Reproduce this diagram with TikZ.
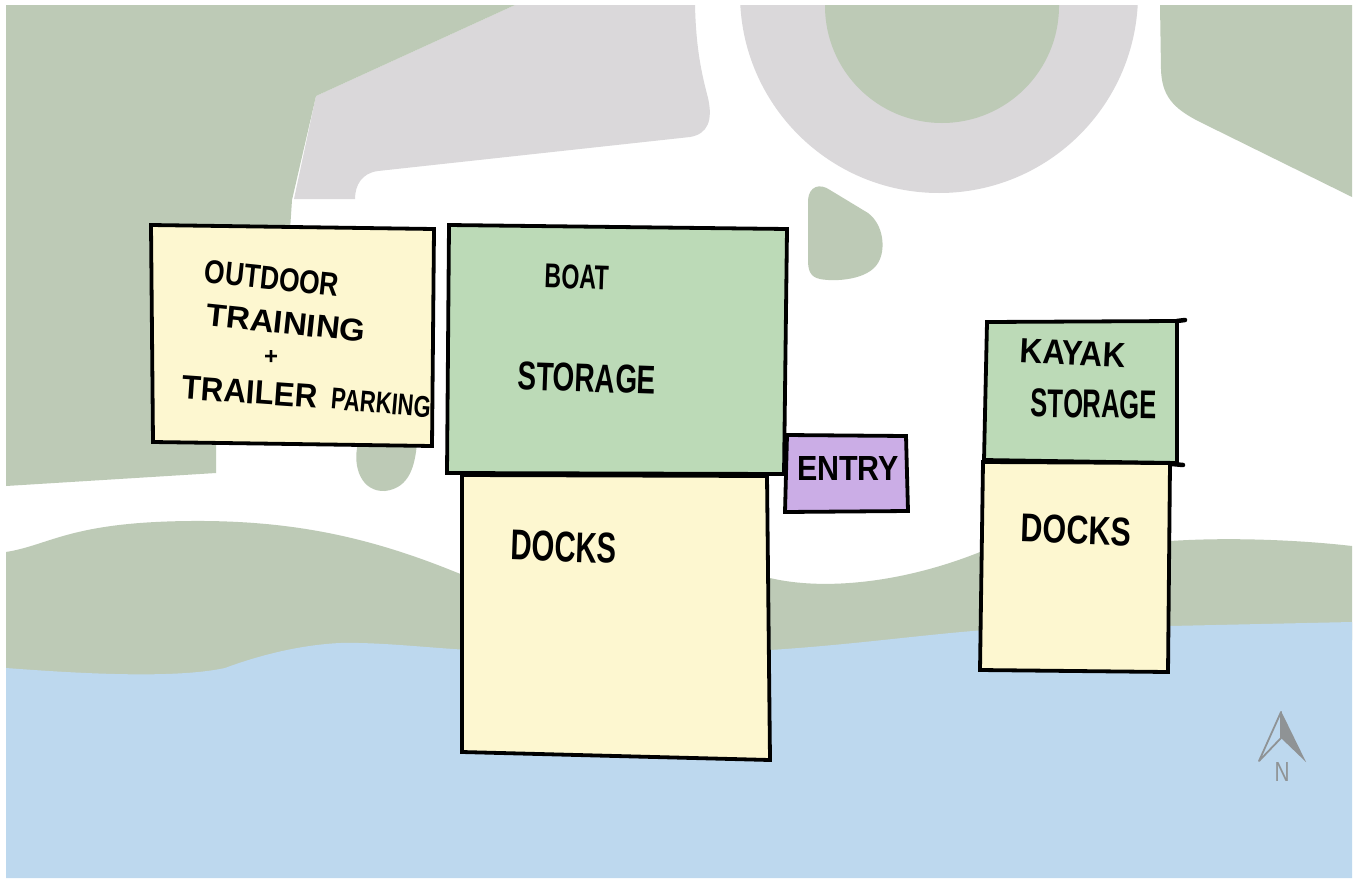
\documentclass[tikz,border=0pt]{standalone}
\usepackage{fontspec}
\usepackage{graphicx}
\setmainfont{Liberation Sans}
\definecolor{land}{HTML}{BDCAB6}
\definecolor{pave}{HTML}{DAD8DA}
\definecolor{water}{HTML}{BDD8EE}
\definecolor{sand}{HTML}{FDF7D0}
\definecolor{stor}{HTML}{BCDAB7}
\definecolor{entr}{HTML}{CBADE6}
\definecolor{arrowgray}{HTML}{8F9395}
\tikzset{
  landshape/.style={fill=land,draw=none},
  paveshape/.style={fill=pave,draw=none},
  waterarea/.style={fill=water,draw=none},
  sketchbox/.style={draw=black,line width=3.8pt,line join=miter},
  sketchtick/.style={draw=black,line width=4.5pt,line cap=round},
  handtext/.style={inner sep=0pt,outer sep=0pt,text=black,anchor=center},
}
\newcommand{\hw}[3]{\resizebox{#1pt}{#2pt}{\textbf{#3}}}
\begin{document}
\begin{tikzpicture}[x=1pt,y=-1pt]
\useasboundingbox (0,0) rectangle (1356,878);
\fill[white] (0,0) rectangle (1356,878);
% pavement
\fill[paveshape] (515,5) -- (695,5) .. controls (696,50) and (702,75) .. (708,98) .. controls (713,120) and (708,134) .. (690,137) -- (378,171) .. controls (362,173) and (355,185) .. (355,199) -- (294,199) -- (316,96) -- cycle;
% ring
\begin{scope}
\clip (700,5) rectangle (1180,220);
\fill[paveshape] (939,-6) circle [radius=199];
\fill[landshape] (942,6) circle [radius=117];
\end{scope}
% upper left land
\fill[landshape] (6,5) -- (515,5) -- (316,96) -- (292,200) -- (290,230) -- (200,440) -- (216,445) -- (216,473) -- (6,486) -- cycle;
% upper right land
\fill[landshape] (1160,5) -- (1352,5) -- (1352,197) -- (1200,122) .. controls (1172,108) and (1162,95) .. (1161,70) -- cycle;
% island
\fill[landshape] (808,200) .. controls (809,186) and (820,183) .. (830,190) -- (868,213) .. controls (884,225) and (886,250) .. (878,263) .. controls (868,280) and (835,282) .. (820,279) .. controls (810,277) and (808,270) .. (808,260) -- cycle;
% small round land
\fill[landshape] (358,443) -- (417,443) .. controls (415,465) and (410,488) .. (385,491) .. controls (362,492) and (352,468) .. (358,443) -- cycle;
% shore band
\fill[landshape] (6,552) .. controls (50,545) and (70,522) .. (190,521) .. controls (300,520) and (380,540) .. (470,578) -- (770,578) .. controls (820,590) and (900,585) .. (985,550) -- (1170,541) .. controls (1230,537) and (1300,540) .. (1352,546) -- (1352,640) -- (6,680) -- cycle;
% water
\fill[waterarea] (6,668) .. controls (60,672) and (170,680) .. (225,668) .. controls (260,655) and (300,645) .. (340,643) .. controls (380,642) and (430,648) .. (470,650) -- (770,650) .. controls (850,645) and (920,635) .. (985,630) -- (1170,626) -- (1352,622) -- (1352,878) -- (6,878) -- cycle;
% boxes
\draw[sketchbox,fill=sand] (462,475) -- (767,476) -- (770,760) -- (462,752) -- cycle;
\draw[sketchbox,fill=sand] (151,225) -- (434,229) -- (432,446) -- (153,442) -- cycle;
\draw[sketchbox,fill=stor] (449,225) -- (787,229) -- (784,474) -- (447,473) -- cycle;
\draw[sketchbox,fill=entr] (787,435) -- (906,436) -- (908,511) -- (785,512) -- cycle;
\draw[sketchbox,fill=sand] (983,462) -- (1170,463) -- (1168,672) -- (980,670) -- cycle;
\draw[sketchbox,fill=stor] (987,322) -- (1177,321) -- (1177,463) -- (984,460) -- cycle;
\draw[sketchtick] (1177,321) -- (1185,320);
\draw[sketchtick] (1172,464) -- (1183,465);
% labels
\node[handtext,rotate=-6] (outdoor) at (272,278) {\hw{135}{23}{OUTDOOR}};
\node[handtext,rotate=-6] (training) at (286,323) {\hw{160}{22}{TRAINING}};
\node[handtext] (plus) at (271,357) {\hw{14}{14}{+}};
\node[handtext,rotate=-4] (trailer) at (250,392) {\hw{135}{23}{TRAILER}};
\node[handtext,rotate=-5] (parking) at (381,403) {\hw{100}{21}{PARKING}};
\node[handtext,rotate=-2] (boat) at (577,277) {\hw{64}{24}{BOAT}};
\node[handtext,rotate=-2] (storage1) at (587,378) {\hw{138}{28}{STORAGE}};
\node[handtext,rotate=-2] (docks1) at (564,547) {\hw{106}{30}{DOCKS}};
\node[handtext] (entry) at (848,468) {\hw{102}{24}{ENTRY}};
\node[handtext,rotate=-3] (kayak) at (1073,353) {\hw{106}{24}{KAYAK}};
\node[handtext,rotate=-1] (storage2) at (1094,404) {\hw{126}{28}{STORAGE}};
\node[handtext,rotate=-2] (docks2) at (1076,530) {\hw{110}{28}{DOCKS}};
% north arrow
\draw[arrowgray,line width=1.8pt,line join=round] (1281,712) -- (1259,761) -- (1281,738) -- cycle;
\fill[arrowgray] (1281,711) -- (1306,762) -- (1281,738) -- cycle;
\node[inner sep=0pt,text=arrowgray] (north) at (1282,772) {\resizebox{15pt}{19pt}{N}};
\end{tikzpicture}
\end{document}
